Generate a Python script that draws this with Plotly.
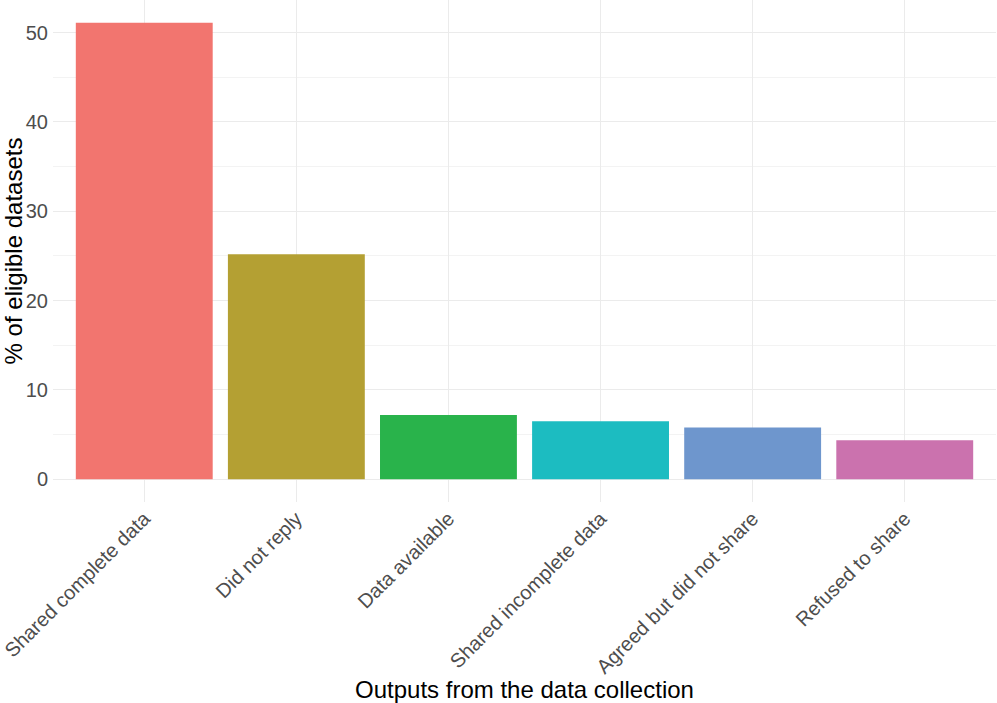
import plotly.graph_objects as go

categories = ["Shared complete data", "Did not reply", "Data available",
              "Shared incomplete data", "Agreed but did not share", "Refused to share"]
values = [51.1, 25.2, 7.2, 6.5, 5.8, 4.35]
colors = ["#F2756F", "#B4A033", "#29B34B", "#1CBCC1", "#6E96CD", "#CB72AE"]

ymax = max(values)
fig = go.Figure(go.Bar(x=categories, y=values, marker=dict(color=colors, line=dict(width=0)),
                       width=0.9))

font = "Liberation Sans, Arial, sans-serif"
fig.update_layout(
    width=997, height=703,
    margin=dict(l=53, r=1, t=0, b=201),
    plot_bgcolor="white", paper_bgcolor="white",
    showlegend=False,
    font=dict(family=font),
    bargap=0.1,
)
fig.update_xaxes(
    range=[-0.6, 5.6], tickangle=-45,
    showgrid=True, gridcolor="#EBEBEB", gridwidth=1.1,
    tickfont=dict(size=20, color="#4D4D4D"),
    showline=False, zeroline=False, ticks="",
    title=dict(text="Outputs from the data collection", font=dict(size=24, color="black"), standoff=6),
    automargin=False,
)
fig.update_yaxes(
    range=[-0.05 * ymax, 1.05 * ymax],
    tickvals=[0, 10, 20, 30, 40, 50],
    showgrid=True, gridcolor="#EBEBEB", gridwidth=1.1,
    minor=dict(tickvals=[5, 15, 25, 35, 45], showgrid=True, gridcolor="#F3F3F3", gridwidth=0.6),
    tickfont=dict(size=20, color="#4D4D4D"),
    showline=False, zeroline=False, ticks="",
    ticklabelstandoff=4,
    title=dict(text="% of eligible datasets", font=dict(size=24, color="black"), standoff=2),
    automargin=False,
)
fig.write_html("out.html", config={"displayModeBar": False},
               post_script="document.body.style.margin='0';document.body.style.padding='0';")
